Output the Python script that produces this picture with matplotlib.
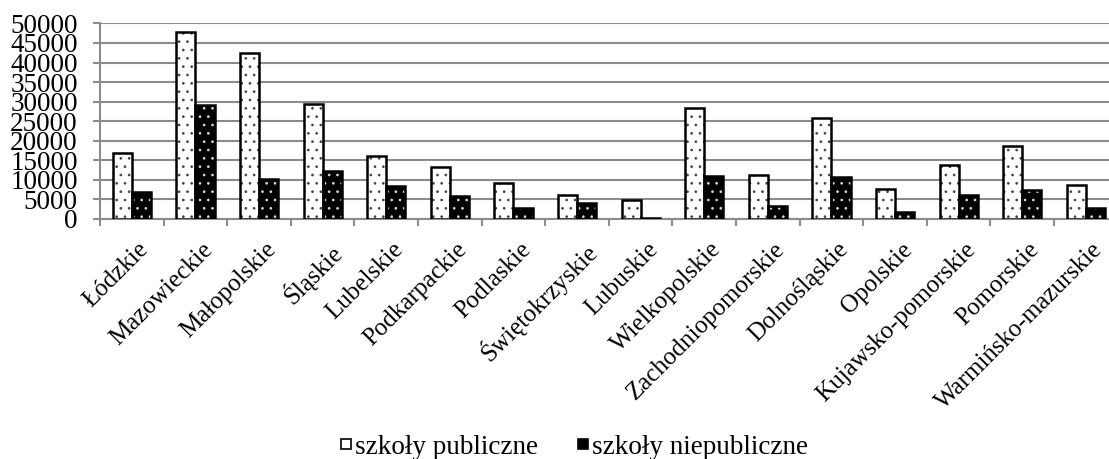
import numpy as np
import matplotlib
matplotlib.use("Agg")
import matplotlib.pyplot as plt
import matplotlib.transforms as mtransforms
from matplotlib.lines import Line2D

plt.rcParams['font.family'] = ['Liberation Serif', 'DejaVu Serif']
plt.rcParams['hatch.linewidth'] = 0.7

regions = ["Łódzkie", "Mazowieckie", "Małopolskie", "Śląskie", "Lubelskie",
           "Podkarpackie", "Podlaskie", "Świętokrzyskie", "Lubuskie",
           "Wielkopolskie", "Zachodniopomorskie", "Dolnośląskie", "Opolskie",
           "Kujawsko-pomorskie", "Pomorskie", "Warmińsko-mazurskie"]
public = [16900, 47900, 42400, 29400, 16100, 13400, 9200, 6200, 4900,
          28300, 11300, 25900, 7700, 13800, 18700, 8700]
private = [7000, 29100, 10200, 12200, 8300, 5900, 2700, 4000, 200,
           11000, 3200, 10700, 1900, 6000, 7400, 2700]
yticks = list(range(0, 50001, 5000))

fig = plt.figure(figsize=(11.09, 4.59), dpi=100)
ax = fig.add_axes([0.0902, 0.523, 0.9176, 0.426])

x = np.arange(len(regions))
w = 0.3

# publiczne: white with dark dots
ax.bar(x - w / 2, public, w, color='white', edgecolor='#444444', hatch='..', linewidth=0, zorder=3)
ax.bar(x - w / 2, public, w, fill=False, edgecolor='black', linewidth=1.8, zorder=4)
# niepubliczne: black with white dots
ax.bar(x + w / 2, private, w, color='black', edgecolor='#d8d8d8', hatch='..', linewidth=0, zorder=3)
ax.bar(x + w / 2, private, w, fill=False, edgecolor='black', linewidth=1.8, zorder=4)

ax.set_xlim(-0.5, len(regions) - 0.5)
ax.set_ylim(0, 50000)
ax.set_yticks(yticks)
ax.set_yticklabels([str(v) for v in yticks], fontsize=19.5)
ax.yaxis.grid(True, color='#8c8c8c', linewidth=1.5, zorder=0)
ax.set_axisbelow(True)

ax.set_xticks(np.arange(-0.5, len(regions), 1.0))
ax.set_xticklabels([])
ax.set_xticks(x, minor=True)
ax.set_xticklabels(regions, minor=True, rotation=45, ha='right', va='top',
                   fontsize=18, rotation_mode='anchor')
ax.tick_params(axis='x', which='minor', length=0, pad=14)
ax.tick_params(axis='x', which='major', length=5, width=1.5, color='#8c8c8c')
ax.tick_params(axis='y', length=5, width=1.5, color='#8c8c8c', pad=11)

shift = mtransforms.ScaledTranslation(6 / 100, 0, fig.dpi_scale_trans)
for lab in ax.get_xticklabels(minor=True):
    lab.set_transform(lab.get_transform() + shift)

for s in ['top', 'right']:
    ax.spines[s].set_visible(False)
for s in ['left', 'bottom']:
    ax.spines[s].set_color('#8c8c8c')
    ax.spines[s].set_linewidth(1.5)

handles = [Line2D([], [], linestyle='none', marker='s', markersize=7.5,
                  markerfacecolor='white', markeredgecolor='black', markeredgewidth=1.2),
           Line2D([], [], linestyle='none', marker='s', markersize=7.5,
                  markerfacecolor='black', markeredgecolor='black', markeredgewidth=1.2)]
fig.legend(handles, ["szkoły publiczne", "szkoły niepubliczne"], loc='center',
           bbox_to_anchor=(0.518, 0.026), ncol=2, frameon=False, fontsize=19.5,
           handlelength=0.4, handletextpad=0.15, columnspacing=1.45,
           borderpad=0)

fig.savefig("out.png", dpi=100)
